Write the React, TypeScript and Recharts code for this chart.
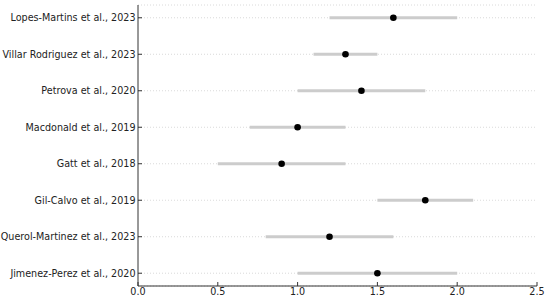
import React from "react";
import { ScatterChart, Scatter, XAxis, YAxis, CartesianGrid, ErrorBar } from "recharts";

const studies = [
  "Jimenez-Perez et al., 2020",
  "Querol-Martinez et al., 2023",
  "Gil-Calvo et al., 2019",
  "Gatt et al., 2018",
  "Macdonald et al., 2019",
  "Petrova et al., 2020",
  "Villar Rodriguez et al., 2023",
  "Lopes-Martins et al., 2023",
];
const estimates = [1.5, 1.2, 1.8, 0.9, 1.0, 1.4, 1.3, 1.6];
const lower = [1.0, 0.8, 1.5, 0.5, 0.7, 1.0, 1.1, 1.2];
const upper = [2.0, 1.6, 2.1, 1.3, 1.3, 1.8, 1.5, 2.0];
const xTicks = [0, 0.5, 1.0, 1.5, 2.0, 2.5];

const data = studies.map((s, i) => ({
  y: i,
  x: estimates[i],
  err: [estimates[i] - lower[i], upper[i] - estimates[i]],
}));

const FONT = "DejaVu Sans, sans-serif";

const XTick = (props: any) => {
  const { x, y, payload } = props;
  return (
    <g>
      <line x1={x} x2={x} y1={y} y2={y - 4} stroke="#333" strokeWidth={1} />
      <text x={x} y={y} dy={9} textAnchor="middle" fontSize={9.6} fontFamily={FONT} fill="#222">
        {Number(payload.value).toFixed(1)}
      </text>
    </g>
  );
};

const YTick = (props: any) => {
  const { x, y, payload } = props;
  return (
    <g>
      <line x1={x} x2={x + 4} y1={y} y2={y} stroke="#333" strokeWidth={1} />
      <text x={x - 2.5} y={y} dy="0.36em" textAnchor="end" fontSize={9.6} fontFamily={FONT} fill="#222">
        {studies[payload.value]}
      </text>
    </g>
  );
};

export default function App() {
  return (
    <div>
      <style>{`body{margin:0}`}</style>
      <ScatterChart width={550} height={302} margin={{ top: 5, right: 13, bottom: 0, left: 0 }}>
        <CartesianGrid horizontal vertical={false} stroke="#d0d0d0" strokeDasharray="1 2" strokeWidth={0.8} />
        <XAxis
          type="number"
          dataKey="x"
          domain={[0, 2.5]}
          ticks={xTicks}
          allowDataOverflow
          height={16}
          tickSize={0}
          tickMargin={0}
          tickLine={false}
          tick={<XTick />}
          axisLine={{ stroke: "#333", strokeWidth: 1 }}
        />
        <YAxis
          type="number"
          dataKey="y"
          domain={[-0.35, 7.35]}
          ticks={[0, 1, 2, 3, 4, 5, 6, 7]}
          allowDataOverflow
          width={138}
          tickSize={0}
          tickMargin={0}
          tickLine={false}
          tick={<YTick />}
          axisLine={{ stroke: "#333", strokeWidth: 1 }}
          interval={0}
        />
        <Scatter data={data} fill="#000" isAnimationActive={false} shape={(p: any) => <circle cx={p.cx} cy={p.cy} r={3.3} fill="#000" />}>
          <ErrorBar dataKey="err" direction="x" width={0} stroke="#cccccc" strokeWidth={3} isAnimationActive={false} />
        </Scatter>
      </ScatterChart>
    </div>
  );
}
